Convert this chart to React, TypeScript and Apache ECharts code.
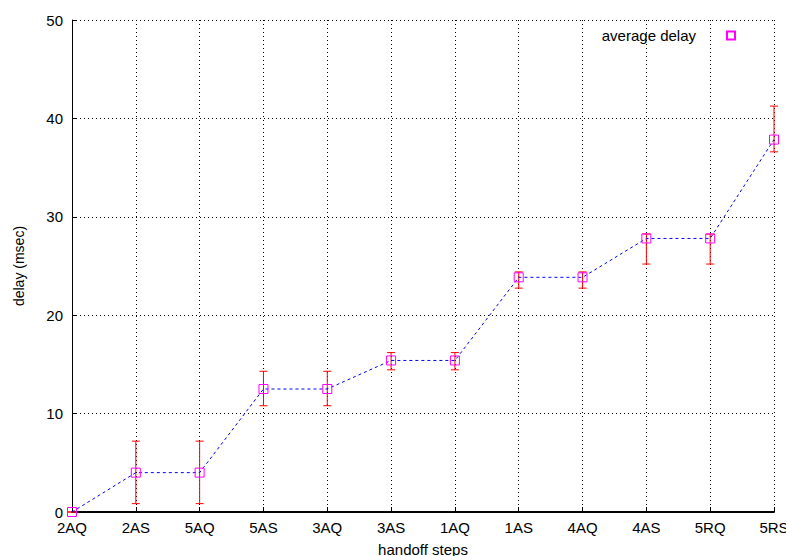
import React, { useEffect, useRef } from "react";
import * as echarts from "echarts";

const categories = ["2AQ", "2AS", "5AQ", "5AS", "3AQ", "3AS", "1AQ", "1AS", "4AQ", "4AS", "5RQ", "5RS"];
const avgDelay = [0, 4.0, 4.0, 12.5, 12.5, 15.4, 15.4, 23.85, 23.85, 27.8, 27.8, 37.85];
const errLow = [0, 0.85, 0.85, 10.8, 10.8, 14.45, 14.45, 22.75, 22.75, 25.2, 25.2, 36.6];
const errHigh = [0, 7.2, 7.2, 14.3, 14.3, 16.2, 16.2, 24.4, 24.4, 28.25, 28.25, 41.25];
const yTicks = [0, 10, 20, 30, 40, 50];

const FONT = "'Liberation Sans', Arial, Helvetica, sans-serif";

export default function App() {
  const ref = useRef<HTMLDivElement>(null);
  useEffect(() => {
    if (!ref.current) return;
    const chart = echarts.init(ref.current, null, { renderer: "svg" });
    const errData = categories.map((c, i) => [i, errLow[i], errHigh[i]]);
    chart.setOption({
      animation: false,
      backgroundColor: "#ffffff",
      textStyle: { fontFamily: FONT },
      grid: { left: 72, right: 12, top: 20, bottom: 44, containLabel: false, outerBoundsMode: "none" },
      legend: {
        data: [{ name: "average delay", icon: "rect" }],
        right: 45,
        top: 23,
        align: "right",
        itemWidth: 8,
        itemHeight: 8,
        itemGap: 10,
        selectedMode: false,
        textStyle: { fontSize: 15, color: "#000", fontFamily: FONT, padding: [0, 26, 0, 0] },
      },
      xAxis: {
        type: "category",
        data: categories,
        boundaryGap: false,
        name: "handoff steps",
        nameLocation: "middle",
        nameGap: 30,
        nameTextStyle: { fontSize: 15, color: "#000", fontFamily: FONT },
        axisLine: { lineStyle: { color: "#000", width: 2 } },
        axisTick: { show: true, inside: true, length: 5, lineStyle: { color: "#000" } },
        axisLabel: { fontSize: 15, color: "#000", margin: 8, fontFamily: FONT },
        splitLine: { show: true, lineStyle: { color: "#000", type: [1, 3], width: 1 } },
      },
      yAxis: {
        type: "value",
        min: 0,
        max: 50,
        interval: 10,
        name: "delay (msec)",
        nameLocation: "middle",
        nameGap: 46,
        nameRotate: 90,
        nameTextStyle: { fontSize: 14, color: "#000", fontFamily: FONT },
        axisLine: { show: true, lineStyle: { color: "#000", width: 1 } },
        axisTick: { show: true, inside: true, length: 5, lineStyle: { color: "#000" } },
        axisLabel: {
          fontSize: 15,
          color: "#000",
          margin: 9,
          fontFamily: FONT,
          formatter: (v: number) => (yTicks.includes(v) ? String(v) : ""),
        },
        splitLine: { show: true, lineStyle: { color: "#000", type: [1, 3], width: 1 } },
      },
      series: [
        {
          name: "average delay",
          type: "line",
          data: avgDelay,
          symbol: "rect",
          symbolSize: 9,
          showAllSymbol: true,
          lineStyle: { color: "#0000ff", width: 1, type: [3, 3] },
          itemStyle: { color: "rgba(255,255,255,0)", borderColor: "#ff00ff", borderWidth: 1 },
          z: 4,
        },
        {
          name: "err",
          type: "custom",
          data: errData,
          z: 3,
          renderItem: (params: any, api: any) => {
            const x = api.value(0);
            const lo = api.coord([x, api.value(1)]);
            const hi = api.coord([x, api.value(2)]);
            const cap = 4;
            const style = { stroke: "#ff0000", lineWidth: 1 };
            return {
              type: "group",
              children: [
                { type: "line", shape: { x1: lo[0], y1: lo[1], x2: hi[0], y2: hi[1] }, style },
                { type: "line", shape: { x1: hi[0] - cap, y1: hi[1], x2: hi[0] + cap, y2: hi[1] }, style },
                { type: "line", shape: { x1: lo[0] - cap, y1: lo[1], x2: lo[0] + cap, y2: lo[1] }, style },
              ],
            };
          },
        },
      ],
    });
    return () => chart.dispose();
  }, []);
  return <div ref={ref} style={{ width: 786, height: 556, position: "absolute", left: 0, top: 0 }} />;
}
